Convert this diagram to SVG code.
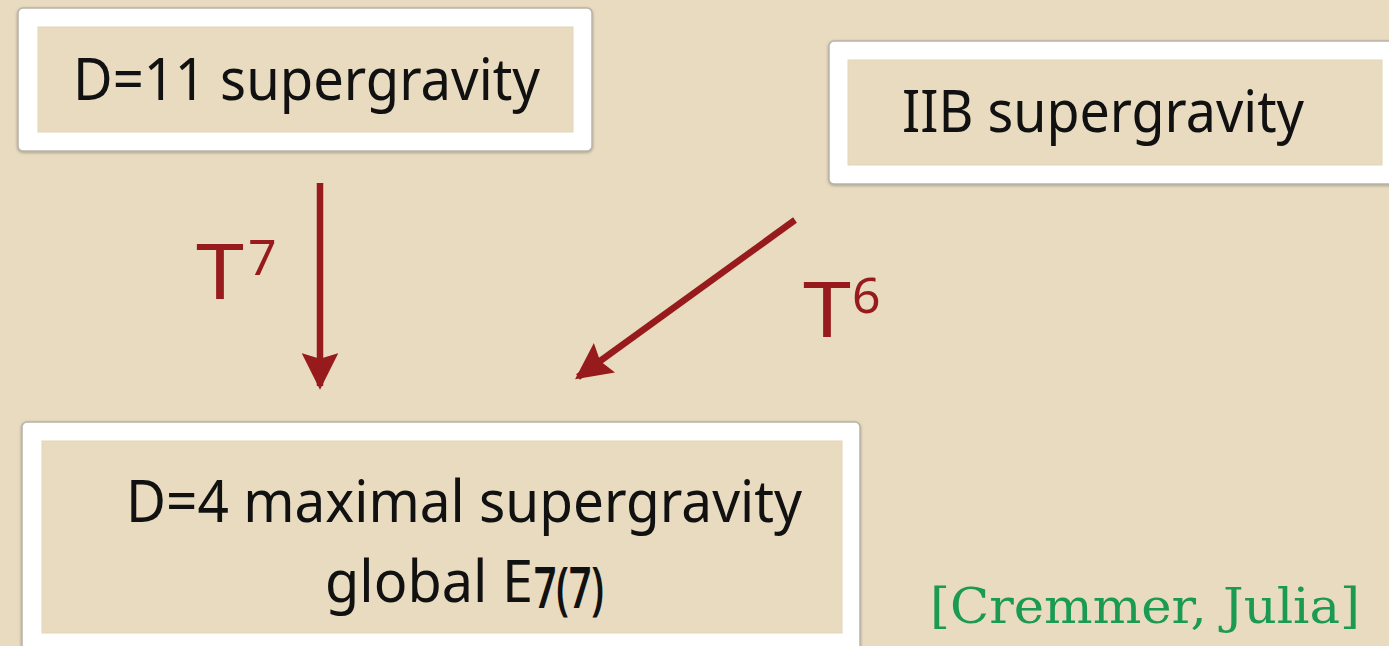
<svg xmlns="http://www.w3.org/2000/svg" width="1389" height="646" viewBox="0 0 1389 646">
<style>
.outer{fill:#ffffff;stroke:#b9b4aa;stroke-width:1.5}
.inner{fill:#e8dbbf;stroke:#e3d5b6;stroke-width:1}
.lbl{font-family:"Noto Sans","DejaVu Sans",sans-serif;fill:#111111;font-size:58px}
.conn{stroke:#971a1c;stroke-width:6.5;fill:none}
.tl{font-family:"Noto Sans","DejaVu Sans",sans-serif;fill:#971a1c}
.cite{font-family:"DejaVu Serif","Liberation Serif",serif;fill:#1a9a52;font-size:48px}
</style>
<defs>
<filter id="sh" x="-5%" y="-10%" width="110%" height="125%">
<feDropShadow dx="0" dy="1" stdDeviation="1.5" flood-color="#7a7266" flood-opacity="0.6"/>
</filter>
<marker id="ah" viewBox="0 0 10 10" refX="9" refY="5" markerWidth="5.6" markerHeight="5.6" markerUnits="strokeWidth" orient="auto">
<path d="M0,0 L10,5 L0,10 L1.5,5 Z" fill="#971a1c"/>
</marker>
</defs>
<rect x="0" y="0" width="1389" height="646" fill="#e8dbbf"/>
<g id="node-d11">
<rect class="outer" x="18" y="8" width="574" height="143" rx="5" filter="url(#sh)"/>
<rect class="inner" x="38" y="27" width="535" height="105"/>
<text class="lbl" x="73" y="100" textLength="467" lengthAdjust="spacingAndGlyphs">D=11 supergravity</text>
</g>
<g id="node-iib">
<rect class="outer" x="829" y="41" width="580" height="143" rx="5" filter="url(#sh)"/>
<rect class="inner" x="848" y="60" width="534" height="105"/>
<text class="lbl" x="902" y="132" textLength="402" lengthAdjust="spacingAndGlyphs">IIB supergravity</text>
</g>
<g id="node-d4">
<rect class="outer" x="22" y="422" width="838" height="240" rx="5" filter="url(#sh)"/>
<rect class="inner" x="42" y="441" width="800" height="192"/>
<text class="lbl" x="126" y="522" font-size="60" textLength="676" lengthAdjust="spacingAndGlyphs">D=4 maximal supergravity</text>
<text class="lbl" x="325" y="602" font-size="60" textLength="208" lengthAdjust="spacingAndGlyphs">global E</text>
<text class="lbl" x="534" y="608" font-size="34" font-weight="600" textLength="70" lengthAdjust="spacingAndGlyphs">7(7)</text>
</g>
<g id="connectors">
<path class="conn" d="M320,183 L320,386" marker-end="url(#ah)"/>
<path class="conn" d="M795,220 L578,377" marker-end="url(#ah)"/>
<text class="tl" x="196" y="299" font-size="76" textLength="48" lengthAdjust="spacingAndGlyphs">T</text>
<text class="tl" x="248" y="275" font-size="50">7</text>
<text class="tl" x="803" y="337" font-size="76" textLength="48" lengthAdjust="spacingAndGlyphs">T</text>
<text class="tl" x="852" y="313" font-size="50">6</text>
</g>
<text class="cite" x="930" y="623" textLength="430" lengthAdjust="spacingAndGlyphs">[Cremmer, Julia]</text>
</svg>
